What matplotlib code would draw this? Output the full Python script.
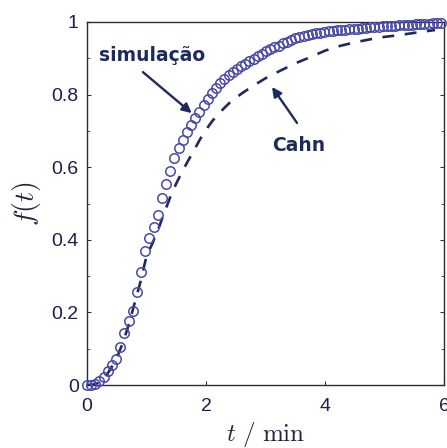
import matplotlib
matplotlib.use("Agg")
import matplotlib.pyplot as plt
from matplotlib.ticker import MultipleLocator

# simulation points (t in min, f(t))
sim_t = [0.00, 0.07, 0.14, 0.21, 0.28, 0.35, 0.42, 0.49, 0.56, 0.63,
         0.70, 0.77, 0.84, 0.91, 0.98, 1.05, 1.12, 1.19, 1.26, 1.33,
         1.40, 1.47, 1.54, 1.61, 1.68, 1.75, 1.82, 1.89, 1.96, 2.03,
         2.10, 2.17, 2.24, 2.31, 2.38, 2.45, 2.52, 2.59, 2.66, 2.73,
         2.80, 2.87, 2.94, 3.01, 3.08, 3.15, 3.22, 3.29, 3.36, 3.43,
         3.50, 3.57, 3.64, 3.71, 3.78, 3.85, 3.92, 3.99, 4.06, 4.13,
         4.20, 4.27, 4.34, 4.41, 4.48, 4.55, 4.62, 4.69, 4.76, 4.83,
         4.90, 4.97, 5.04, 5.11, 5.18, 5.25, 5.32, 5.39, 5.46, 5.53,
         5.60, 5.67, 5.74, 5.81, 5.88, 5.95]
sim_f = [0.000, 0.001, 0.004, 0.011, 0.022, 0.038, 0.055, 0.073, 0.105, 0.143,
         0.175, 0.205, 0.255, 0.310, 0.368, 0.405, 0.435, 0.468, 0.515, 0.553,
         0.590, 0.625, 0.652, 0.675, 0.696, 0.716, 0.735, 0.753, 0.770, 0.787,
         0.804, 0.818, 0.831, 0.843, 0.853, 0.862, 0.870, 0.878, 0.885, 0.892,
         0.899, 0.905, 0.912, 0.919, 0.925, 0.930, 0.935, 0.941, 0.946, 0.950,
         0.955, 0.959, 0.962, 0.965, 0.967, 0.969, 0.971, 0.973, 0.975, 0.976,
         0.977, 0.978, 0.979, 0.980, 0.981, 0.982, 0.983, 0.984, 0.985, 0.986,
         0.987, 0.988, 0.989, 0.990, 0.990, 0.991, 0.992, 0.992, 0.993, 0.994,
         0.994, 0.995, 0.995, 0.996, 0.996, 0.997]

# Cahn model curve
cahn_t = [0.00, 0.10, 0.20, 0.30, 0.40, 0.50, 0.60, 0.70, 0.80, 0.90,
          1.00, 1.10, 1.20, 1.30, 1.40, 1.50, 1.60, 1.70, 1.80, 1.90,
          2.00, 2.10, 2.20, 2.30, 2.40, 2.60, 2.80, 3.00, 3.25, 3.50,
          3.75, 4.00, 4.25, 4.50, 4.75, 5.00, 5.25, 5.50, 5.85]
cahn_f = [0.000, 0.001, 0.006, 0.020, 0.045, 0.075, 0.115, 0.165, 0.225, 0.285,
          0.355, 0.390, 0.430, 0.475, 0.518, 0.555, 0.588, 0.618, 0.647, 0.677,
          0.703, 0.726, 0.745, 0.762, 0.778, 0.803, 0.825, 0.845, 0.866, 0.886,
          0.903, 0.921, 0.934, 0.944, 0.952, 0.959, 0.964, 0.970, 0.978]

x_ticks = [0, 2, 4, 6]
y_ticks = [0, 0.2, 0.4, 0.6, 0.8, 1]
y_tick_labels = ["0", "0.2", "0.4", "0.6", "0.8", "1"]

navy = "#1c2a5e"
circle_col = "#4848aa"
tick_col = "#1e1e48"

plt.rcParams["font.family"] = ["Liberation Sans", "DejaVu Sans"]
plt.rcParams["mathtext.fontset"] = "cm"

fig = plt.figure(figsize=(4.47, 4.48), dpi=100)
ax = fig.add_axes([0.1946, 0.1406, 0.7987, 0.8103])

ax.plot(cahn_t, cahn_f, color=navy, linewidth=1.9, dashes=(4.5, 4.0), zorder=2)
ax.plot(sim_t, sim_f, linestyle="none", marker="o", markersize=6.8,
        markerfacecolor="none", markeredgecolor=circle_col,
        markeredgewidth=1.1, zorder=3, clip_on=False)

ax.set_xlim(0, 6)
ax.set_ylim(0, 1)
ax.set_xticks(x_ticks)
ax.set_yticks(y_ticks)
ax.set_yticklabels(y_tick_labels)
ax.yaxis.set_minor_locator(MultipleLocator(0.1))
ax.tick_params(direction="in", length=3, width=0.8, colors="#333333",
               labelcolor=tick_col, labelsize=14, top=False, right=True)
ax.tick_params(axis="x", pad=9)
ax.tick_params(axis="y", pad=6)
ax.tick_params(which="minor", direction="in", length=2, width=0.6,
               right=True, colors="#333333")
for s in ax.spines.values():
    s.set_color("#2a2a3a")
    s.set_linewidth(1.0)

ax.set_xlabel(r"$t\ /\ \mathrm{min}$", fontsize=18, color="#222244", labelpad=4)
ax.set_ylabel(r"$f(t)$", fontsize=20, color="#222244", labelpad=6)

# labels and arrows
ax.text(1.09, 0.909, "simulação", ha="center", va="center", fontsize=13.5,
        fontweight="bold", color=navy, family="DejaVu Sans")
ax.annotate("", xy=(1.76, 0.749), xytext=(0.94, 0.862),
            arrowprops=dict(arrowstyle="-|>", color=navy, lw=1.7,
                            mutation_scale=14, shrinkA=0, shrinkB=0))
ax.text(3.55, 0.661, "Cahn", ha="center", va="center", fontsize=13.5,
        fontweight="bold", color=navy, family="DejaVu Sans")
ax.annotate("", xy=(3.11, 0.821), xytext=(3.53, 0.722),
            arrowprops=dict(arrowstyle="-|>", color=navy, lw=1.7,
                            mutation_scale=14, shrinkA=0, shrinkB=0))

fig.savefig("out.png", dpi=100)
